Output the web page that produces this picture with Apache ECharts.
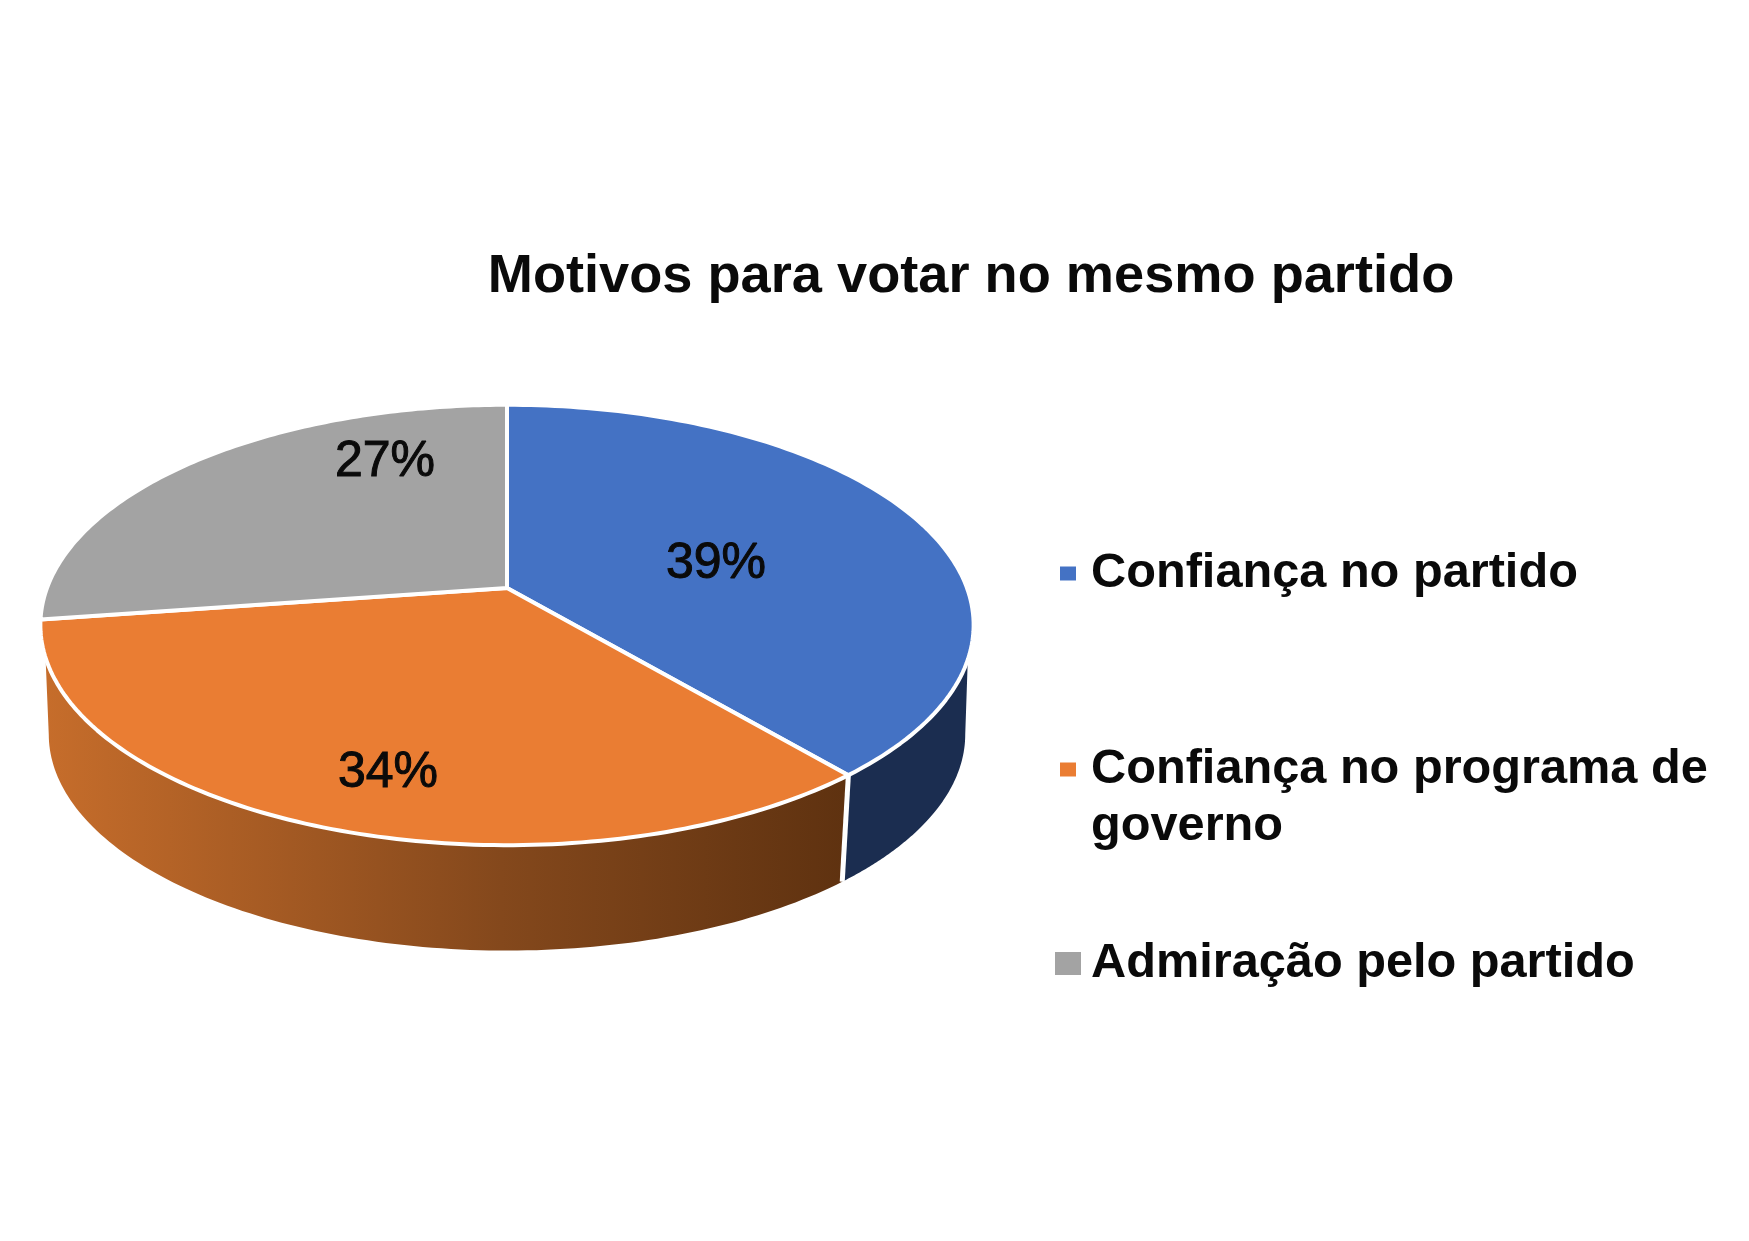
<!DOCTYPE html>
<html>
<head>
<meta charset="utf-8">
<title>Motivos para votar no mesmo partido</title>
<script src="https://cdn.jsdelivr.net/npm/echarts@6/dist/echarts.min.js"></script>
<style>
html, body { margin: 0; padding: 0; background: #fff; }
/* a figura original e uma imagem ampliada, um pouco desfocada */
#main { width: 1749px; height: 1241px; filter: blur(0.7px); }
</style>
</head>
<body>
<div id="main"></div>
<script>
// dados
var categories = ['Confiança no partido', 'Confiança no programa de\ngoverno', 'Admiração pelo partido'];
var shares = [38.8, 33.9, 27.3];
var shareLabels = ['39%', '34%', '27%'];

var faceColors = ['#4472c4', '#ea7d33', '#a3a3a3'];
var labelSpots = [[716, 564], [388, 773], [385, 462]];

// geometria do disco em perspectiva
var disc = {
    cx: 507, cy: 588,      // ponto onde as fatias se encontram
    rx: 460, ry: 214,
    k: 0.168,              // forca da perspectiva
    drop: 110,             // altura da lateral
    shrink: 0.982          // base um pouco menor que o topo
};
var rimFrom = 108.5, rimTo = 252;     // parte visivel da borda superior
var baseFrom = 99.7, baseTo = 260.3;  // parte visivel da borda inferior

function project(deg, bottom) {
    var a = deg * Math.PI / 180;
    var u = Math.sin(a), v = Math.cos(a);
    var d = 1 + disc.k * v;
    var s = bottom ? disc.shrink : 1;
    return [
        disc.cx + s * disc.rx * u / d,
        disc.cy + (bottom ? disc.drop : 0) - s * disc.ry * v / d
    ];
}

function arc(from, to, bottom) {
    var pts = [];
    var n = 120;
    for (var i = 0; i <= n; i++) {
        pts.push(project(from + (to - from) * i / n, bottom));
    }
    return pts;
}

var total = shares.reduce(function(a, b) { return a + b; }, 0);

function sideFill(index) {
    if (index === 0) {
        return '#1b2d50';
    }
    return new echarts.graphic.LinearGradient(45, 0, 845, 0, [
        { offset: 0, color: '#c66d2b' },
        { offset: 0.57, color: '#84481c' },
        { offset: 1, color: '#5f3210' }
    ], true);
}

function renderSlice(params, api) {
    var i = params.seriesIndex;
    var before = 0;
    for (var j = 0; j < i; j++) {
        before += shares[j];
    }
    var start = before / total * 360;
    var end = start + api.value(0) / total * 360;
    var children = [];

    // lateral
    var t0 = Math.max(start, rimFrom), t1 = Math.min(end, rimTo);
    var b0 = Math.max(start, baseFrom), b1 = Math.min(end, baseTo);
    if (t1 > t0 && b1 > b0) {
        children.push({
            type: 'polygon',
            z2: 1,
            shape: { points: arc(t0, t1, false).concat(arc(b0, b1, true).reverse()) },
            style: { fill: sideFill(i), lineWidth: 0 }
        });
        // linha branca na aresta entre fatias
        if (i === 1) {
            children.push({
                type: 'line',
                z2: 2,
                shape: {
                    x1: project(start, false)[0], y1: project(start, false)[1],
                    x2: project(start, true)[0], y2: project(start, true)[1]
                },
                style: { stroke: '#fff', lineWidth: 5 }
            });
        }
    }

    // topo
    children.push({
        type: 'polygon',
        z2: 3,
        shape: { points: [[disc.cx, disc.cy]].concat(arc(start, end, false)) },
        style: { fill: faceColors[i], stroke: '#fff', lineWidth: 4, lineJoin: 'round' }
    });

    children.push({
        type: 'text',
        z2: 5,
        style: {
            text: shareLabels[i],
            x: labelSpots[i][0],
            y: labelSpots[i][1],
            align: 'center',
            verticalAlign: 'middle',
            fill: '#0a0a0a',
            font: '50px "Liberation Sans", Arial, sans-serif',
            stroke: '#0a0a0a',
            lineWidth: 1
        }
    });

    return { type: 'group', children: children };
}

var myChart = echarts.init(document.getElementById('main'));

function legendFor(i, left, top, w, h, gap) {
    return {
        left: left,
        top: top,
        padding: 0,
        orient: 'vertical',
        selectedMode: false,
        itemWidth: w,
        itemHeight: h,
        // linha vazia antes do nome para o marcador ficar alinhado com a primeira linha
        formatter: function(name) {
            return name.indexOf('\n') >= 0 ? '\n' + name : name;
        },
        data: [{ name: categories[i], icon: 'rect', itemStyle: { color: faceColors[i], borderWidth: 0 } }],
        textStyle: {
            color: '#0a0a0a',
            fontFamily: '"Liberation Sans", Arial, sans-serif',
            fontWeight: 'bold',
            fontSize: 48.7,
            lineHeight: 57,
            padding: [0, 0, 0, gap]
        }
    };
}

var option = {
    backgroundColor: '#fff',
    animation: false,
    title: {
        text: 'Motivos para votar no mesmo partido',
        left: 966,
        top: 245,
        textAlign: 'center',
        textStyle: {
            color: '#0a0a0a',
            fontFamily: '"Liberation Sans", Arial, sans-serif',
            fontWeight: 'bold',
            fontSize: 54.2
        }
    },
    legend: [
        legendFor(0, 1060, 545, 16, 14, 10),
        legendFor(1, 1060, 684, 16, 14, 10),
        legendFor(2, 1055, 935, 26, 23, 5)
    ],
    series: shares.map(function(v, i) {
        return {
            type: 'custom',
            name: categories[i],
            coordinateSystem: 'none',
            silent: true,
            renderItem: renderSlice,
            itemStyle: { color: faceColors[i] },
            data: [[v]]
        };
    })
};

option && myChart.setOption(option);
</script>
</body>
</html>
